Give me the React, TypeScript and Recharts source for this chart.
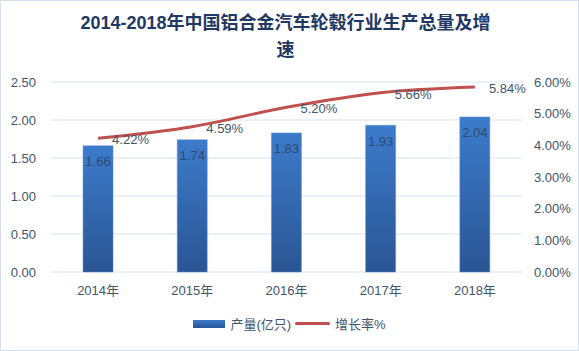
import * as React from "react";
import {
  ComposedChart,
  Bar,
  Line,
  XAxis,
  YAxis,
  CartesianGrid,
  LabelList,
} from "recharts";

const years = ["2014年", "2015年", "2016年", "2017年", "2018年"];
const output = [1.66, 1.74, 1.83, 1.93, 2.04];
const growth = [4.22, 4.59, 5.2, 5.66, 5.84];
const leftTicks = [0, 0.5, 1, 1.5, 2, 2.5];
const rightTicks = [0, 1, 2, 3, 4, 5, 6];

const FONT = "'Liberation Sans', 'Noto Sans CJK SC', sans-serif";
const TEXT = "#44546A";

const data = years.map((y, i) => ({ year: y, output: output[i], growth: growth[i] }));

// label for the growth line, drawn to the right of each point
const GrowthLabel = (props: any) => {
  const { x, y, value } = props;
  return (
    <text x={x + 14} y={y + 6} fontSize={13} fill={TEXT} fontFamily={FONT}>
      {value.toFixed(2)}%
    </text>
  );
};

const App: React.FC = () => {
  return (
    <div
      style={{
        position: "absolute",
        left: 0,
        top: 0,
        width: 577,
        height: 349,
        border: "1px solid #D6DFEE",
        background: "#fff",
        fontFamily: FONT,
      }}
    >
      <div
        style={{
          position: "absolute",
          top: 9,
          left: -4,
          width: 577,
          textAlign: "center",
          fontSize: 18,
          fontWeight: "bold",
          color: "#1F3864",
          lineHeight: "27px",
        }}
      >
        2014-2018年中国铝合金汽车轮毂行业生产总量及增
        <br />速
      </div>
      <ComposedChart
        width={577}
        height={349}
        data={data}
        margin={{ top: 81, right: 0, bottom: 48, left: 0 }}
        barCategoryGap="34%"
      >
        <defs>
          <linearGradient id="barFill" x1="0" y1="0" x2="0" y2="1">
            <stop offset="0%" stopColor="#3C7BCB" />
            <stop offset="100%" stopColor="#2A5594" />
          </linearGradient>
        </defs>
        <CartesianGrid vertical={false} stroke="#D9E2F1" yAxisId="left" />
        <XAxis
          dataKey="year"
          height={30}
          axisLine={false}
          tickLine={false}
          tick={{ fontSize: 13, fill: TEXT, fontFamily: FONT }}
          tickMargin={8}
        />
        <YAxis
          yAxisId="left"
          width={50}
          domain={[0, 2.5]}
          ticks={leftTicks}
          axisLine={false}
          tickLine={false}
          tickFormatter={(v: number) => v.toFixed(2)}
          tick={{ fontSize: 13, fill: TEXT, fontFamily: FONT }}
          tickMargin={9}
        />
        <YAxis
          yAxisId="right"
          orientation="right"
          width={56}
          domain={[0, 6]}
          ticks={rightTicks}
          axisLine={false}
          tickLine={false}
          tickFormatter={(v: number) => `${v.toFixed(2)}%`}
          tick={{ fontSize: 13, fill: TEXT, fontFamily: FONT }}
          tickMargin={6}
        />
        <Bar
          yAxisId="left"
          dataKey="output"
          fill="url(#barFill)"
          stroke="#5B8FD6"
          strokeWidth={0.5}
          isAnimationActive={false}
        >
          <LabelList
            dataKey="output"
            position="insideTop"
            offset={11}
            formatter={(v: any) => Number(v).toFixed(2)}
            style={{ fontSize: 13, fill: "#2F4A73", fontFamily: FONT }}
          />
        </Bar>
        <Line
          yAxisId="right"
          type="monotone"
          dataKey="growth"
          stroke="#C0504D"
          strokeWidth={3}
          dot={false}
          isAnimationActive={false}
        >
          <LabelList dataKey="growth" content={<GrowthLabel />} />
        </Line>
      </ComposedChart>
      <div
        style={{
          position: "absolute",
          top: 313,
          left: 0,
          width: 577,
          display: "flex",
          justifyContent: "center",
          alignItems: "center",
          fontSize: 13,
          color: TEXT,
        }}
      >
        <span
          style={{
            display: "inline-block",
            width: 32,
            height: 8,
            background: "linear-gradient(#3C7BCB, #2A5594)",
            marginRight: 5,
          }}
        />
        <span style={{ marginRight: 4 }}>产量(亿只)</span>
        <span
          style={{
            display: "inline-block",
            width: 35,
            height: 3,
            background: "#C0504D",
            borderRadius: 2,
            marginRight: 5,
          }}
        />
        <span>增长率%</span>
      </div>
    </div>
  );
};

export default App;
